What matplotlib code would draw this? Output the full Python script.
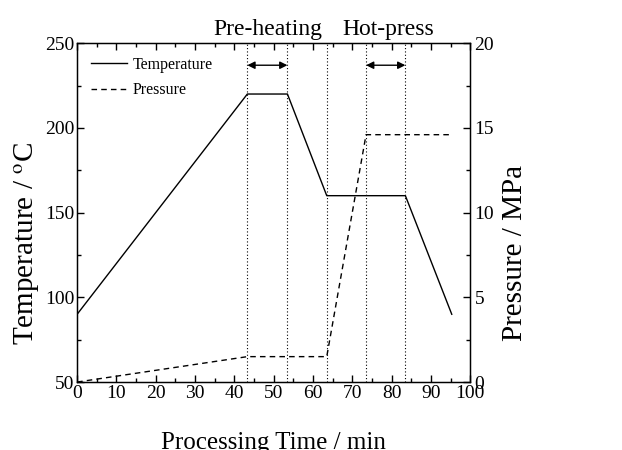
import matplotlib
matplotlib.use("Agg")
import matplotlib.pyplot as plt
from matplotlib.ticker import MultipleLocator

# process schedule
time_temp = [0, 43.3, 53.5, 63.5, 83.5, 95.3]
temperature = [90, 220, 220, 160, 160, 90]
time_pres = [0, 43.3, 63.5, 73.5, 95.3]
pressure = [0, 1.5, 1.5, 14.6, 14.6]
stage_marks = [43.3, 53.5, 63.5, 73.5, 83.5]
stage_spans = [(43.3, 53.5), (73.5, 83.5)]
stage_names = ["Pre-heating", "Hot-press"]
stage_label_x = [48.5, 79.2]

plt.rcParams['font.family'] = ['Liberation Serif', 'DejaVu Serif']
plt.rcParams['mathtext.fontset'] = 'stix'

fig = plt.figure(figsize=(6.22, 4.5), dpi=100)
ax = fig.add_axes([0.124, 0.151, 0.632, 0.753])
ax2 = ax.twinx()

ax.plot(time_temp, temperature, color='black', lw=1.0, label='Temperature')
ax.plot([], [], color='black', lw=1.0, ls=(0, (4, 3)), label='Pressure')
ax2.plot(time_pres, pressure, color='black', lw=1.0, ls=(0, (4, 3)))

for x in stage_marks:
    ax.axvline(x, color='black', lw=0.8, ls=(0, (1, 2)))

for (a, b) in stage_spans:
    ax.annotate('', xy=(a, 237), xytext=(b, 237),
                arrowprops=dict(arrowstyle='<|-|>', color='black', lw=1.0,
                                mutation_scale=11, shrinkA=0, shrinkB=0))

for name, x in zip(stage_names, stage_label_x):
    ax.text(x, 252, name, ha='center', va='bottom', fontsize=17)

ax.set_xlim(0, 100)
ax.set_ylim(50, 250)
ax2.set_ylim(0, 20)

ax.xaxis.set_major_locator(MultipleLocator(10))
ax.xaxis.set_minor_locator(MultipleLocator(5))
ax.yaxis.set_major_locator(MultipleLocator(50))
ax.yaxis.set_minor_locator(MultipleLocator(25))
ax2.yaxis.set_major_locator(MultipleLocator(5))
ax2.yaxis.set_minor_locator(MultipleLocator(2.5))

ax.tick_params(which='both', direction='in', top=True, labelsize=14, pad=2)
ax.tick_params(which='major', length=5, width=1)
ax.tick_params(which='minor', length=3, width=1)
ax2.tick_params(which='both', direction='in', labelsize=14, pad=3)
ax2.tick_params(which='major', length=5, width=1)
ax2.tick_params(which='minor', length=3, width=1)

for s in ax.spines.values():
    s.set_linewidth(1.0)

ax.set_xlabel('Processing Time / min', fontsize=18)
ax.xaxis.set_label_coords(0.5, -0.148, transform=ax.transAxes)
ax.set_ylabel('Temperature / $^{\\mathrm{o}}$C', fontsize=21)
ax.yaxis.set_label_coords(-0.09, 0.41)
ax2.set_ylabel('Pressure / MPa', fontsize=21)
ax2.yaxis.set_label_coords(1.08, 0.38)

ax.legend(loc='upper left', frameon=False, fontsize=11.5, handlelength=2.3,
          handletextpad=0.3, labelspacing=0.6, borderaxespad=0.45,
          bbox_to_anchor=(0.0, 1.0))

fig.savefig('out.png', dpi=100)
